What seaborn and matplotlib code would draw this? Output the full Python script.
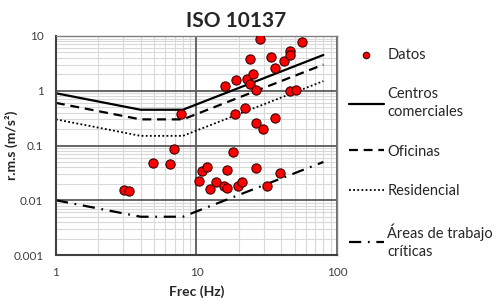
import matplotlib
matplotlib.use('Agg')
import matplotlib.pyplot as plt
import seaborn as sns
import pandas as pd
from matplotlib.ticker import LogLocator, NullFormatter

# Measured data (frequency in Hz, r.m.s acceleration in m/s2)
freq_datos = [3.03, 3.32, 4.92, 6.46, 6.90, 7.78, 15.9, 19.0, 23.0, 24.1,
              24.2, 25.4, 26.7, 28.2, 34.1, 36.3, 42.2, 46.3, 46.3, 56.4,
              46.3, 50.8, 18.9, 22.2, 26.6, 29.9, 36.3, 10.4, 10.9, 11.9,
              12.4, 13.7, 15.8, 16.4, 16.4, 18.1, 19.6, 21.1, 26.7, 31.8,
              39.3]
rms_datos = [0.0156, 0.0146, 0.048, 0.0454, 0.086, 0.384, 1.21, 1.60, 1.65, 1.32,
             3.73, 2.06, 1.03, 8.96, 4.11, 2.57, 3.53, 5.43, 4.48, 7.80,
             0.98, 1.04, 0.378, 0.48, 0.26, 0.20, 0.32, 0.0223, 0.0348, 0.0406,
             0.0163, 0.0217, 0.0179, 0.0165, 0.0358, 0.0747, 0.0179, 0.0211, 0.0394, 0.0184,
             0.0316]

# ISO 10137 limit curves
freq_lim = [1, 4, 8, 80]
centros = [0.9, 0.45, 0.45, 4.5]
oficinas = [0.6, 0.3, 0.3, 3.0]
residencial = [0.3, 0.15, 0.15, 1.5]
criticas = [0.01, 0.005, 0.005, 0.05]

sns.set_style("white")
plt.rcParams['font.family'] = ['Lato', 'DejaVu Sans']

fig = plt.figure(figsize=(4.98, 3.0), dpi=100)
rect = [0.1124, 0.15, 0.5643, 0.73]

# background axes only for the light minor grid
ax_bg = fig.add_axes(rect, zorder=0)
ax = fig.add_axes(rect, zorder=1)
for a in (ax_bg, ax):
    a.set_xscale('log')
    a.set_yscale('log')
    a.set_xlim(1, 100)
    a.set_ylim(0.001, 10)
ax_bg.xaxis.set_minor_locator(LogLocator(base=10, subs=range(2, 10)))
ax_bg.yaxis.set_minor_locator(LogLocator(base=10, subs=range(2, 10)))
ax_bg.grid(which='minor', color='#d9d9d9', lw=0.8, linestyle='-')
ax_bg.set_xticks([])
ax_bg.set_yticks([])
ax_bg.tick_params(which='both', length=0, labelleft=False, labelbottom=False)
for sp in ax_bg.spines.values():
    sp.set_visible(False)
ax.patch.set_visible(False)

sns.lineplot(x=freq_lim, y=centros, color='black', lw=1.6, ax=ax,
             label='Centros\ncomerciales', linestyle='-')
sns.lineplot(x=freq_lim, y=oficinas, color='black', lw=1.6, ax=ax,
             label='Oficinas', linestyle=(0, (4, 2.6)))
sns.lineplot(x=freq_lim, y=residencial, color='black', lw=1.3, ax=ax,
             label='Residencial', linestyle=(0, (1, 1.3)))
sns.lineplot(x=freq_lim, y=criticas, color='black', lw=1.6, ax=ax,
             label='Áreas de trabajo\ncríticas', linestyle=(0, (5.5, 3, 0.8, 3)))

df = pd.DataFrame({'freq': freq_datos, 'rms': rms_datos})
sns.scatterplot(data=df, x='freq', y='rms', color='#FF0000', edgecolor='#3a0000',
                linewidth=0.8, s=44, ax=ax, label='Datos', zorder=5)

ax.set_xlim(1, 100)
ax.set_ylim(0.001, 10)
ax.set_xticks([1, 10, 100], ['1', '10', '100'])
ax.set_yticks([0.001, 0.01, 0.1, 1, 10], ['0.001', '0.01', '0.1', '1', '10'])
ax.xaxis.set_minor_formatter(NullFormatter())
ax.yaxis.set_minor_formatter(NullFormatter())
ax.tick_params(which='both', length=0, labelsize=8.5, colors='#404040', pad=9)
ax.tick_params(which='minor', length=0)

ax.grid(which='major', color='#5a5a5a', lw=1.3, linestyle='-')
ax.grid(which='minor', visible=False)
ax.set_axisbelow(True)
for sp in ax.spines.values():
    sp.set_color('#7f7f7f')
    sp.set_linewidth(1.0)
ax.spines['left'].set_color('#404040')
ax.spines['bottom'].set_color('#404040')
ax.spines['left'].set_linewidth(1.5)
ax.spines['bottom'].set_linewidth(1.5)

ax.set_xlabel('Frec (Hz)', fontsize=10, fontweight='bold', labelpad=5)
ax.set_ylabel('r.m.s (m/s²)', fontsize=10, fontweight='bold')
ax.yaxis.set_label_coords(-0.135, 0.5)
fig.suptitle('ISO 10137', x=0.474, y=0.962, fontsize=15, fontweight='bold')

handles, labels = ax.get_legend_handles_labels()
order = [4, 0, 1, 2, 3]
leg = ax.legend([handles[i] for i in order], [labels[i] for i in order],
                loc='upper left', bbox_to_anchor=(1.0, 1.0), frameon=False,
                fontsize=10.5, handlelength=2.4, handletextpad=0.25,
                labelspacing=1.75, markerscale=0.7, borderaxespad=0.4)
for t in leg.get_texts():
    t.set_linespacing(1.35)

fig.savefig('out.png', dpi=100)
